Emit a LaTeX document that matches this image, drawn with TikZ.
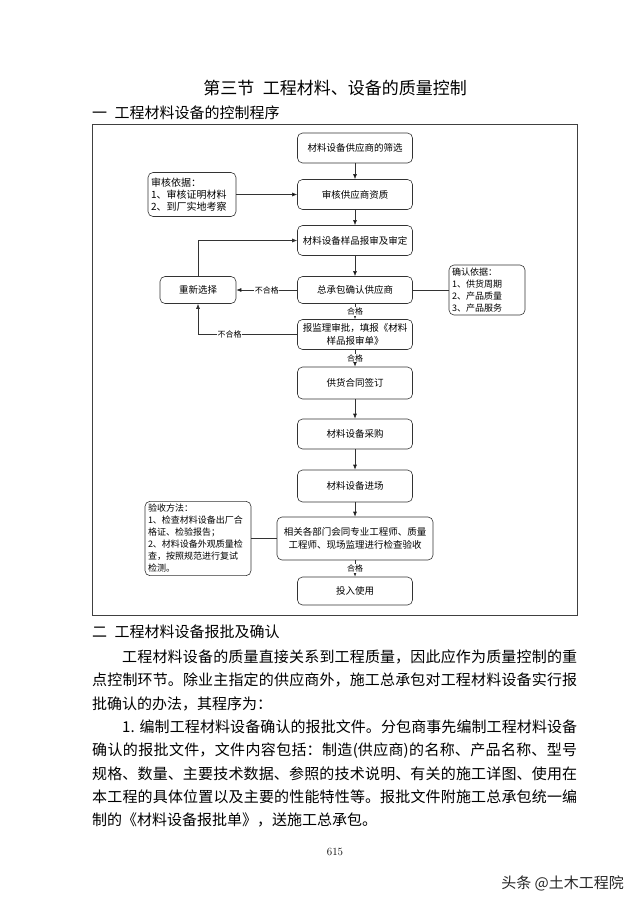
\documentclass[tikz,border=0pt]{standalone}
\usepackage{fontspec}
\newfontfamily\cjk{Noto Sans CJK SC}
\XeTeXlinebreaklocale "zh"
\XeTeXlinebreakskip=0pt plus 1pt
\usetikzlibrary{arrows.meta,positioning,calc}

\begin{document}
\begin{tikzpicture}[x=1pt, y=-1pt]
  \tikzstyle{every node} = [inner sep=1pt, text=black]
  \tikzstyle{stepbox} = [draw=black!80, line width=0.6pt, rounded corners=5pt, minimum width=115pt, minimum height=30pt, align=center, font=\cjk\fontsize{9.5}{13}\selectfont]
  \tikzstyle{notebox} = [draw=black!80, line width=0.6pt, rounded corners=5pt, inner sep=3pt, align=left, font=\cjk\fontsize{9}{11.8}\selectfont]
  \tikzstyle{verdict} = [fill=white, inner sep=0.5pt, font=\cjk\fontsize{8}{8}\selectfont]
  \tikzstyle{flow} = [draw=black!80, line width=0.6pt, -{Latex[length=5pt, width=4pt]}]
  \tikzstyle{link} = [draw=black!80, line width=0.6pt]
  \tikzstyle{bodyline} = [anchor=west, inner sep=0pt, text width=485pt, align=justify, font=\cjk\fontsize{15}{15}\selectfont]
  \tikzstyle{fullline} = [bodyline, execute at begin node={\parfillskip=0pt}]

  \useasboundingbox (0,0) rectangle (640,905);

  \def\M{355}; % main column
  \def\L{198}; % left column

  % headings
  \node[font=\cjk\fontsize{17}{17}\selectfont] (title) at (335, 88) {第三节\hspace{0.5em}工程材料、设备的质量控制};
  \node[anchor=west, inner sep=0pt, font=\cjk\fontsize{15}{15}\selectfont] (sec1) at (92, 113) {一\hspace{0.5em}工程材料设备的控制程序};

  % frame
  \draw[black!75, line width=0.8pt] (92, 124) rectangle (577, 615);

  % main column nodes
  \node[stepbox] (s1) at (\M, 148) {材料设备供应商的筛选};
  \node[stepbox] (s2) at (\M, 194.5) {审核供应商资质};
  \node[stepbox] (s3) at (\M, 240.5) {材料设备样品报审及审定};
  \node[stepbox, minimum height=27pt] (s4) at (\M, 290) {总承包确认供应商};
  \node[stepbox] (s5) at (\M, 334.5) {报监理审批，填报《材料\\样品报审单》};
  \node[stepbox, minimum height=32pt] (s6) at (\M, 383) {供货合同签订};
  \node[stepbox] (s7) at (\M, 434) {材料设备采购};
  \node[stepbox, minimum height=32pt] (s8) at (\M, 486) {材料设备进场};
  \node[stepbox, minimum width=156pt, minimum height=43pt] (s9) at (\M, 538.5) {相关各部门会同专业工程师、质量\\工程师、现场监理进行检查验收};
  \node[stepbox, minimum height=28pt] (s10) at (\M, 591) {投入使用};

  % side nodes
  \node[notebox, text width=82pt, minimum height=44pt, font=\cjk\fontsize{10}{11.8}\selectfont] (basis) at (192, 194.5) {审核依据：\\1、审核证明材料\\2、到厂实地考察};
  \node[stepbox, minimum width=76pt, minimum height=27pt] (reselect) at (\L, 290) {重新选择};
  \node[notebox, text width=70pt, minimum height=50pt] (confirm) at (487, 290) {确认依据：\\1、供货周期\\2、产品质量\\3、产品服务};
  \node[notebox, text width=100pt, minimum height=73pt, font=\cjk\fontsize{9}{12}\selectfont] (accept) at (\L, 538.5) {验收方法：\\1、检查材料设备出厂合\\格证、检验报告；\\2、材料设备外观质量检\\查，按照规范进行复试\\检测。};

  % connection lines
  \path[flow] (s1) edge (s2);
  \path[flow] (s2) edge (s3);
  \path[flow] (s3) edge (s4);
  \path[flow] (s4) edge node[verdict] {合格} (s5);
  \path[flow] (s5) edge node[verdict] {合格} (s6);
  \path[flow] (s6) edge (s7);
  \path[flow] (s7) edge (s8);
  \path[flow] (s8) edge (s9);
  \path[flow] (s9) edge node[verdict] {合格} (s10);
  \path[flow] (basis) edge (s2);
  \path[flow] (s4) edge node[verdict] {不合格} (reselect);
  \draw[flow] (s5.west) -| node[verdict, pos=0.34] {不合格} (reselect.south);
  \draw[flow] (reselect.north) |- (s3.west);
  \path[link] (s4) edge (confirm);
  \path[link] (accept) edge (s9);

  % section two text
  \node[anchor=west, inner sep=0pt, font=\cjk\fontsize{15}{15}\selectfont] (sec2) at (92, 632) {二\hspace{0.5em}工程材料设备报批及确认};
  \node[fullline] (p1) at (92, 657) {\hspace*{2em}工程材料设备的质量直接关系到工程质量，因此应作为质量控制的重};
  \node[fullline] (p2) at (92, 680.3) {点控制环节。除业主指定的供应商外，施工总承包对工程材料设备实行报};
  \node[bodyline] (p3) at (92, 703.6) {批确认的办法，其程序为：};
  \node[fullline] (p4) at (92, 726.9) {\hspace*{2em}1. 编制工程材料设备确认的报批文件。分包商事先编制工程材料设备};
  \node[fullline] (p5) at (92, 750.2) {确认的报批文件，文件内容包括：制造(供应商)的名称、产品名称、型号};
  \node[fullline] (p6) at (92, 773.5) {规格、数量、主要技术数据、参照的技术说明、有关的施工详图、使用在};
  \node[fullline] (p7) at (92, 796.8) {本工程的具体位置以及主要的性能特性等。报批文件附施工总承包统一编};
  \node[bodyline] (p8) at (92, 820.1) {制的《材料设备报批单》，送施工总承包。};

  % page number and mark
  \node[font=\fontsize{11}{11}\selectfont] (page) at (335, 852) {615};
  \node[anchor=east, text=black!85, font=\cjk\fontsize{15}{15}\selectfont] (mark) at (625, 883) {头条 @土木工程院};

\end{tikzpicture}
\end{document}
